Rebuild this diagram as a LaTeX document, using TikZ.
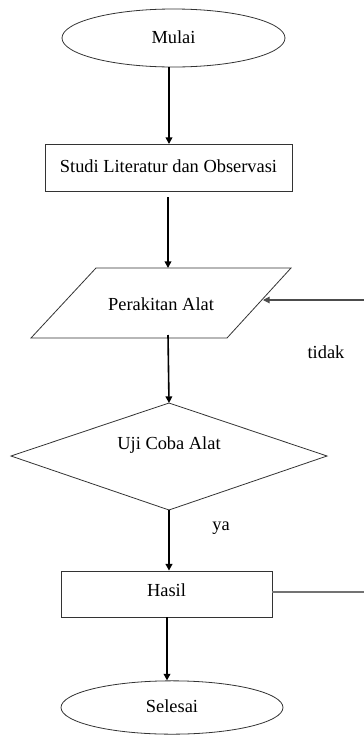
\documentclass[tikz,border=0pt]{standalone}
\usepackage{fontspec}
\setmainfont{Liberation Serif}
\usetikzlibrary{shapes.geometric,arrows.meta}
\begin{document}
\begin{tikzpicture}[x=0.75pt,y=-0.75pt,
  shp/.style={draw=black!80, line width=0.6pt},
  txt/.style={font=\fontsize{13.8}{16}\selectfont, inner sep=0pt},
  flow/.style={line width=1.2pt, -{Triangle[length=5pt,width=5pt]}},
  back/.style={draw=black!55, line width=0.8pt}]
\useasboundingbox (0,0) rectangle (364,736);
% Mulai
\node[shp, ellipse, minimum width=167.25pt, minimum height=43.5pt, inner sep=0pt] (mulai) at (173.5,38) {};
\node[txt] (tmulai) at (173.5,37) {Mulai};
% Studi
\node[shp, rectangle, minimum width=185.25pt, minimum height=35.25pt, inner sep=0pt] (studi) at (168.5,167.5) {};
\node[txt] (tstudi) at (168.5,166) {Studi Literatur dan Observasi};
% Perakitan (parallelogram)
\coordinate (ptl) at (96,268); \coordinate (ptr) at (291,268);
\coordinate (pbr) at (227,338); \coordinate (pbl) at (31,338);
\draw[shp] (ptl) -- (ptr) -- (pbr) -- (pbl) -- cycle;
\node[txt] (tperakitan) at (161,304) {Perakitan Alat};
\coordinate (ptop) at (168,268);
\coordinate (pbot) at (168,335);
\coordinate (pright) at (263,300);
% Uji (diamond)
\coordinate (dt) at (169,403); \coordinate (dr) at (327,456);
\coordinate (db) at (169,510); \coordinate (dl) at (11,456);
\draw[shp] (dt) -- (dr) -- (db) -- (dl) -- cycle;
\node[txt] (tuji) at (169,445) {Uji Coba Alat};
% Hasil
\node[shp, rectangle, minimum width=158.25pt, minimum height=34.5pt, inner sep=0pt] (hasil) at (166.5,594) {};
\node[txt] (thasil) at (166.5,590) {Hasil};
% Selesai
\node[shp, ellipse, minimum width=166.5pt, minimum height=40pt, inner sep=0pt] (selesai) at (172,707.5) {};
\node[txt] (tselesai) at (172,706) {Selesai};
% labels
\node[txt] (tidak) at (326,352) {tidak};
\node[txt] (ya) at (221,528) {ya};
% edge coordinates
\coordinate (e1) at (364,300);
\coordinate (e2) at (364,592);
\coordinate (sgap) at (168,197);
% connectors
\draw[flow] (mulai.south -| 169,0) -- (169,144);
\draw[flow] (sgap) -- (ptop);
\draw[flow] (pbot) -- (dt);
\draw[flow] (db) -- (hasil.north -| db);
\draw[flow] (hasil.south -| 167,0) -- (selesai.north -| 167,0);
\draw[back] (hasil.east |- e2) -- (e2);
\draw[back, -{Triangle[length=5pt,width=5pt]}, draw=black!70] (e1) -- (pright);
\end{tikzpicture}
\end{document}
